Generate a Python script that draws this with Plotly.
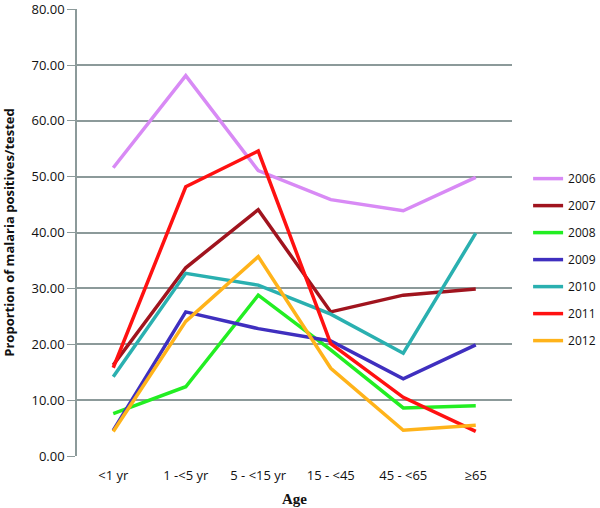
import plotly.graph_objects as go

categories = ["<1 yr", "1 -<5 yr", "5 - <15 yr", "15 - <45", "45 - <65", "≥65"]
years = ["2006", "2007", "2008", "2009", "2010", "2011", "2012"]
v2006 = [51.6, 68.1, 51.1, 45.9, 43.9, 49.9]
v2007 = [16.3, 33.7, 44.1, 25.8, 28.8, 29.9]
v2008 = [7.6, 12.4, 28.8, 19.0, 8.6, 9.0]
v2009 = [4.6, 25.8, 22.8, 20.6, 13.8, 19.9]
v2010 = [14.2, 32.7, 30.6, 25.4, 18.4, 39.9]
v2011 = [15.8, 48.2, 54.6, 20.1, 10.5, 4.4]
v2012 = [4.4, 24.1, 35.7, 15.7, 4.6, 5.5]
series = [v2006, v2007, v2008, v2009, v2010, v2011, v2012]
colors = ["#D88AF5", "#A0141E", "#22EE22", "#3F2FBF", "#2AB0B0", "#FF1111", "#FFB31A"]

fig = go.Figure()
for i, (name, vals) in enumerate(zip(years, series)):
    fig.add_trace(go.Scatter(
        x=categories, y=vals, mode="lines", name=name,
        line=dict(color=colors[i], width=3.5), legendgroup=name,
    ))

fig.update_layout(
    width=600, height=508,
    margin=dict(l=77, r=88, t=9, b=52, autoexpand=False),
    plot_bgcolor="white", paper_bgcolor="white",
    font=dict(family="Open Sans, Liberation Sans, sans-serif", size=13, color="#111"),
    showlegend=True,
    legend=dict(x=1.037, y=0.653, xanchor="left", yanchor="top",
                traceorder="grouped", tracegroupgap=8,
                font=dict(size=12), bgcolor="rgba(0,0,0,0)"),
    xaxis=dict(
        type="category", range=[-0.5, 5.5], showgrid=False,
        showline=False, ticks="", zeroline=False, ticklabelstandoff=10,
        title=dict(text="<b>Age</b>", font=dict(family="Liberation Serif, Times New Roman, serif", size=15), standoff=10),
    ),
    yaxis=dict(
        range=[0, 80.03], tick0=0, dtick=10, tickformat=".2f",
        showgrid=True, gridcolor="#8C9A9A", gridwidth=1.5,
        showline=True, linecolor="#8C9A9A", linewidth=1.5,
        ticks="outside", ticklen=8, tickcolor="#8C9A9A",
        ticklabeloverflow="allow", zeroline=False,
        title=dict(text="<b>Proportion of malaria positives/tested</b>", font=dict(size=13), standoff=16),
    ),
)

fig.write_html("out.html", config={"displayModeBar": False},
               post_script="document.body.style.margin='0';document.body.style.overflow='hidden';")
